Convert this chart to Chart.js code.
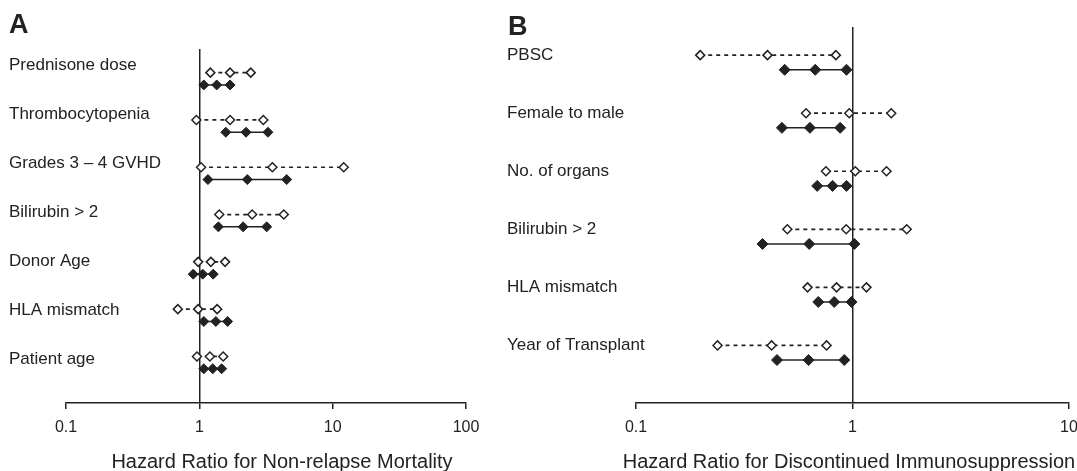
<!DOCTYPE html>
<html>
<head>
<meta charset="utf-8">
<script src="https://cdn.jsdelivr.net/npm/chart.js@4"></script>
<style>
  html, body { margin: 0; padding: 0; background: #fff; overflow: hidden; }
  #wrap { position: relative; width: 1077px; height: 471px; }
  canvas { position: absolute; top: 0; }
  #chartA { left: 0; }
  #chartB { left: 495px; }
</style>
</head>
<body>
<div id="wrap">
  <canvas id="chartA" width="500" height="471"></canvas>
  <canvas id="chartB" width="582" height="471"></canvas>
</div>
<script>
// panel A - non-relapse mortality
const labelsA = ['Prednisone dose', 'Thrombocytopenia', 'Grades 3 – 4 GVHD', 'Bilirubin > 2', 'Donor Age', 'HLA mismatch', 'Patient age'];
const openLowA = [1.21, 0.95, 1.03, 1.41, 0.98, 0.69, 0.96];
const openHrA = [1.70, 1.70, 3.53, 2.49, 1.22, 0.98, 1.20];
const openHighA = [2.43, 3.02, 12.1, 4.30, 1.56, 1.36, 1.51];
const fillLowA = [1.08, 1.58, 1.16, 1.39, 0.90, 1.08, 1.08];
const fillHrA = [1.35, 2.24, 2.29, 2.13, 1.06, 1.33, 1.26];
const fillHighA = [1.70, 3.27, 4.52, 3.20, 1.27, 1.63, 1.47];
const xTicksA = [0.1, 1, 10, 100];

// panel B - discontinued immunosuppression
const labelsB = ['PBSC', 'Female to male', 'No. of organs', 'Bilirubin > 2', 'HLA mismatch', 'Year of Transplant'];
const openLowB = [0.198, 0.61, 0.754, 0.50, 0.62, 0.238];
const openHrB = [0.405, 0.966, 1.03, 0.935, 0.844, 0.423];
const openHighB = [0.838, 1.51, 1.436, 1.78, 1.16, 0.759];
const fillLowB = [0.486, 0.472, 0.687, 0.384, 0.695, 0.448];
const fillHrB = [0.673, 0.636, 0.809, 0.631, 0.823, 0.627];
const fillHighB = [0.938, 0.877, 0.938, 1.02, 0.99, 0.916];
const xTicksB = [0.1, 1, 10];

const INK = '#222';
const FONT = "'Liberation Sans', Arial, Helvetica, sans-serif";

// letter + axis title drawn as plain canvas text
const panelText = {
  id: 'panelText',
  afterDraw(chart, args, opts) {
    const ctx = chart.ctx;
    ctx.save();
    ctx.fillStyle = INK;
    ctx.textBaseline = 'alphabetic';
    ctx.font = 'bold 27px ' + FONT;
    ctx.textAlign = 'left';
    ctx.fillText(opts.letter, opts.letterX, opts.letterY);
    ctx.font = '20px ' + FONT;
    ctx.textAlign = 'center';
    ctx.fillText(opts.title, opts.titleX, opts.titleY);
    ctx.restore();
  }
};

function rowSets(low, hr, high, shift, dashed, rOpen, rFill) {
  const sets = [];
  for (let i = 0; i < low.length; i++) {
    const y = i + shift;
    sets.push({
      data: [{ x: low[i], y: y }, { x: hr[i], y: y }, { x: high[i], y: y }],
      showLine: true,
      borderColor: INK,
      borderWidth: dashed ? 1.7 : 1.5,
      borderDash: dashed ? [4, 4] : [],
      pointStyle: 'rectRot',
      pointRadius: dashed ? rOpen : rFill,
      pointBackgroundColor: dashed ? '#fff' : INK,
      pointBorderColor: INK,
      pointBorderWidth: dashed ? 1.5 : 1
    });
  }
  return sets;
}

function makeChart(id, p) {
  new Chart(document.getElementById(id), {
    type: 'scatter',
    data: {
      datasets: rowSets(p.openLow, p.openHr, p.openHigh, -p.shift, true, p.rOpen, p.rFill)
        .concat(rowSets(p.fillLow, p.fillHr, p.fillHigh, p.shift, false, p.rOpen, p.rFill))
    },
    options: {
      responsive: false,
      animation: false,
      layout: { padding: { left: p.padLeft, right: p.padRight, top: p.top, bottom: 0 } },
      plugins: {
        legend: { display: false },
        tooltip: { enabled: false },
        panelText: p.text
      },
      scales: {
        x: {
          type: 'logarithmic',
          min: p.xTicks[0],
          max: p.xTicks[p.xTicks.length - 1],
          afterBuildTicks: s => { s.ticks = p.xTicks.map(v => ({ value: v })); },
          afterFit: s => { s.height = 68; s.paddingLeft = 0; s.paddingRight = 0; },
          ticks: {
            color: INK,
            padding: 9,
            font: { family: FONT, size: 16 },
            callback: (v, i) => String(p.xTicks[i])
          },
          grid: {
            color: c => (c.tick && c.tick.value === 1) ? INK : 'rgba(0,0,0,0)',
            lineWidth: 1.5,
            tickColor: INK,
            tickLength: 6
          },
          border: { display: true, color: INK, width: 1.5 }
        },
        y: {
          type: 'linear',
          reverse: true,
          min: p.yMin,
          max: p.yMax,
          afterBuildTicks: s => { s.ticks = p.labels.map((l, i) => ({ value: p.labelPos(i) })); },
          afterFit: s => { s.width = p.yWidth; s.paddingTop = 0; s.paddingBottom = 0; },
          ticks: {
            color: INK,
            mirror: true,            // no clipping to the axis box
            padding: -p.yWidth,      // pull labels back to the left edge
            font: { family: FONT, size: 17 },
            callback: (v, i) => p.labels[i]
          },
          grid: { display: false, drawTicks: false },
          border: { display: false }
        }
      }
    },
    plugins: [panelText]
  });
}

// A: rows 47.3px apart, first row at y=78.8, plot 66..466 x 49..403
makeChart('chartA', {
  labels: labelsA,
  openLow: openLowA, openHr: openHrA, openHigh: openHighA,
  fillLow: fillLowA, fillHr: fillHrA, fillHigh: fillHighA,
  xTicks: xTicksA,
  shift: 0.13,
  rOpen: 4.5, rFill: 5,
  yMin: -0.63, yMax: 6.854,
  labelPos: i => (65.3 + 48.95 * i - 78.8) / 47.3,
  padLeft: 9, yWidth: 57, padRight: 34, top: 49,
  text: { letter: 'A', letterX: 9, letterY: 33, title: 'Hazard Ratio for Non-relapse Mortality', titleX: 282, titleY: 468 }
});

// B: rows 58.1px apart, first row at y=62.5, plot 636..1069 x 27..403
makeChart('chartB', {
  labels: labelsB,
  openLow: openLowB, openHr: openHrB, openHigh: openHighB,
  fillLow: fillLowB, fillHr: fillHrB, fillHigh: fillHighB,
  xTicks: xTicksB,
  shift: 0.126,
  rOpen: 4.5, rFill: 5.5,
  yMin: -0.611, yMax: 5.866,
  labelPos: i => i - 0.12,
  padLeft: 12, yWidth: 129, padRight: 8, top: 27,
  text: { letter: 'B', letterX: 13, letterY: 35, title: 'Hazard Ratio for Discontinued Immunosuppression', titleX: 354, titleY: 468 }
});
</script>
</body>
</html>
